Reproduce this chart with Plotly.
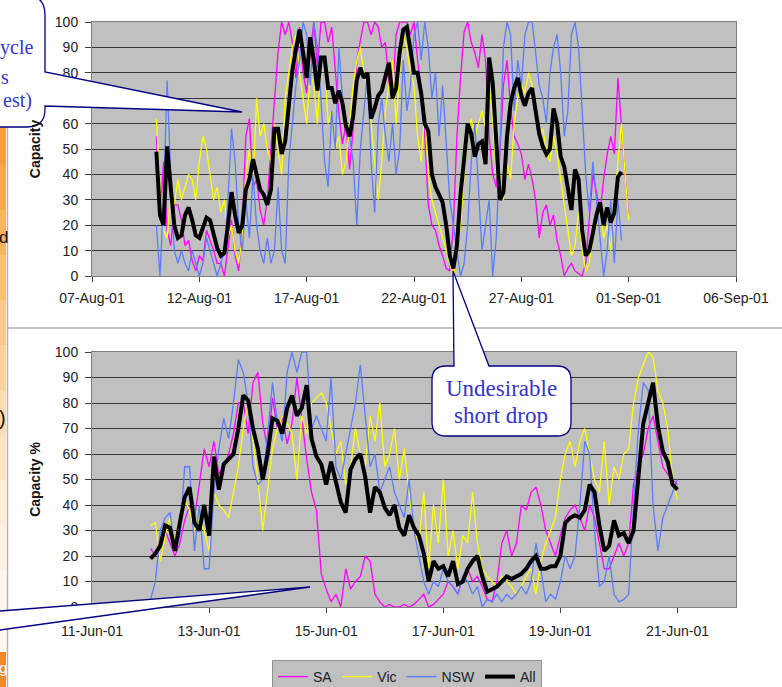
import plotly.graph_objects as go
import pandas as pd

# ---------------- data ----------------
# Top chart: 4-hourly samples from 10-Aug-2001 00:00
top_start = "2001-08-10 00:00"
top_sa = [55,22,45,18,12,28,28,22,12,14, 6,2,8,6,18,14,10,5,5,0, 12,22,8,2,20,55,62,35,38,26,
          20,30,50,70,88,100,95,100,92,78, 98,80,72,88,100,82,100,100,92,98, 82,64,52,60,42,58,85,92,100,100,
          95,100,98,90,92,76,72,95,100,100, 100,95,100,85,74,55,28,20,18,12, 8,3,2,20,55,
          78,96,100,92,88,82,95,85,55,40, 35,48,75,85,66,55,52,48,38,44, 38,30,15,25,28,20,24,14,8,0,
          3,5,2,1,0,5,22,40,33,25, 38,48,55,48,78,58,40,24]
top_vic = [62,35,18,15,32,28,38,30,35,40, 38,30,45,55,50,40,30,35,25,30, 15,20,10,5,15,40,50,35,70,55,
           60,50,45,60,50,40,70,80,90,95, 80,70,60,80,75,60,85,85,60,65, 50,55,40,45,60,75,85,90,80,75,
           60,45,30,45,65,75,85,60,80,95, 90,80,75,55,45,65,40,30,25,20, 15,10,5,0,10,
           20,40,55,62,55,60,65,58,75,62, 40,35,30,45,38,60,70,75,72,80, 75,65,55,58,50,45,55,48,38,30,
           20,8,12,25,10,2,5,15,20,28, 15,20,10,25,45,60,40,22]
top_nsw = [20,0,30,77,40,10,5,10,5,2, 10,5,0,5,15,10,5,0,5,10, 30,58,45,20,10,30,15,40,20,10,
           5,15,5,10,35,10,5,45,60,75, 85,100,95,75,100,90,70,45,35,65, 50,90,70,60,55,45,20,50,65,80,
           45,25,60,70,55,45,60,40,50,85, 65,75,95,100,85,100,90,70,80,55, 75,50,30,20,10,
           0,5,20,45,60,35,10,20,30,0, 15,50,90,100,95,65,85,75,95,100, 100,88,75,70,60,80,90,95,80,55,
           65,95,100,90,65,40,25,45,30,15, 0,10,30,5,30,14, None,None]
top_all = [49,24,20,51,35,20,15,16,24,27, 22,16,15,19,23,22,16,11,8,9, 20,33,24,17,20,34,38,46,40,34,
           32,28,34,58,58,48,53,69,81,89, 97,88,78,94,85,73,86,86,74,74, 68,73,68,59,55,63,77,82,78,80,
           62,66,71,73,78,84,70,74,88,97, 98,88,80,80,72,60,57,40,35,32, 29,20,8,3,12,
           32,45,60,56,47,52,53,44,86,76, 52,30,33,55,68,74,78,71,67,72, 74,64,56,51,48,50,66,60,47,43,
           34,26,42,38,18,8,10,18,24,29, 20,27,21,25,39,41, None,None]

# Bottom chart: 2-hourly samples from 12-Jun-2001 00:00
bot_start = "2001-06-12 00:00"
bot_sa = [23,20,27,30,25,20,25,34,40,35, 48,62,55,65,52,55,60,68,80,80, 68,88,92,72,62,82,70,75,64,72,
          90,74,58,45,38,13,7,2,5,0, 15,7,10,12,20,18,5,2,0,1, 0,0,1,0,1,3,5,0,1,3,
          5,10,8,5,12,15,10,12,8,3, 2,10,25,30,20,25,40,38,45,47, 40,30,25,20,28,35,38,40,35,30,
          40,35,25,15,15,20,25,20,25,48, 55,60,70,75,65,55,52,50,48]
bot_vic = [32,33,18,28,35,25,35,42,38,30, 35,30,22,45,40,38,35,45,55,70, 80,65,50,30,45,62,70,75,72,68,
           50,75,68,80,82,84,80,70,60,65, 48,55,70,60,55,75,65,80,55,60, 70,50,62,45,30,25,45,15,40,25,
           50,20,30,15,28,25,45,25,15,12, 10,8,12,10,8,5,8,12,15,5, 18,25,30,35,50,60,65,55,65,70,
           60,50,45,65,40,55,50,60,62,80, 90,95,100,98,85,80,70,50,42]
bot_nsw = [3,10,30,35,37,22,28,55,55,22, 40,15,15,45,62,74,66,80,97,92, 80,55,48,50,68,88,72,65,92,100,
           92,100,100,70,75,70,65,90,55,50, 60,70,80,95,75,55,60,45,50,55, 45,40,35,50,30,20,10,5,10,8,
           15,10,8,5,12,10,5,8,0,3, 2,5,2,5,3,5,8,5,10,25, 15,2,5,3,10,20,15,20,40,65,
           60,30,8,10,20,5,2,3,5,40, 70,88,85,40,22,35,40,45,50]
bot_all = [19,21,24,32,31,22,33,43,47,33, 30,40,28,59,46,56,58,60,70,83, 81,70,62,50,60,74,73,68,78,83,
           75,78,87,66,59,56,48,57,49,41, 37,54,58,60,51,37,47,45,39,36, 40,31,28,36,31,28,21,10,18,15,
           16,12,18,9,10,15,18,20,12,6, 7,8,10,12,11,12,13,15,18,20, 15,15,16,16,20,33,35,36,35,38,
           48,45,32,22,24,34,28,29,25,30, 52,72,80,88,71,61,57,48,46]

series_names = ["SA", "Vic", "NSW", "All"]
top_ticks = ["2001-08-07", "2001-08-12", "2001-08-17", "2001-08-22", "2001-08-27", "2001-09-01", "2001-09-06"]
bot_ticks = ["2001-06-11", "2001-06-13", "2001-06-15", "2001-06-17", "2001-06-19", "2001-06-21"]
y_ticks = [0, 10, 20, 30, 40, 50, 60, 70, 80, 90, 100]

# ---------------- styling ----------------
W, H = 782, 687
def px(x): return x / W
def py(y): return 1 - y / H

colors = {"SA": "#ff00ff", "Vic": "#ffff00", "NSW": "#5a7cff", "All": "#000000"}
widths = {"SA": 1.3, "Vic": 1.3, "NSW": 1.3, "All": 4}
FONT = "Arial, Liberation Sans, sans-serif"
SERIF = "Times New Roman, Liberation Serif, serif"
CALL = "#3535c8"
NAVY = "#000080"

top_t = pd.date_range(top_start, periods=len(top_sa), freq="4h")
bot_t = pd.date_range(bot_start, periods=len(bot_sa), freq="2h")

fig = go.Figure()
for name, vals in zip(series_names, [top_sa, top_vic, top_nsw, top_all]):
    fig.add_trace(go.Scatter(x=top_t, y=vals, mode="lines", name=name, showlegend=False,
                             line=dict(color=colors[name], width=widths[name]),
                             xaxis="x", yaxis="y"))
for name, vals in zip(series_names, [bot_sa, bot_vic, bot_nsw, bot_all]):
    fig.add_trace(go.Scatter(x=bot_t, y=vals, mode="lines", name=name, showlegend=True,
                             line=dict(color=colors[name], width=widths[name]),
                             xaxis="x2", yaxis="y2"))

xcommon = dict(domain=[px(92), px(736)], tickformat="%d-%b-%y", ticks="outside", ticklen=5,
               tickcolor="#404040", showgrid=False, showline=True, mirror=True, linecolor="#808080",
               linewidth=1, tickfont=dict(family=FONT, size=14, color="#222"), ticklabelstandoff=4,
               automargin=False)
ycommon = dict(range=[0, 100], tickvals=y_ticks, ticks="outside", ticklen=6, tickcolor="#404040",
               showgrid=True, gridcolor="#363636", gridwidth=1.2, zeroline=False, showline=True,
               mirror=True, linecolor="#808080", linewidth=1, automargin=False,
               tickfont=dict(family=FONT, size=14, color="#222"), ticklabelstandoff=4)

fig.update_layout(
    width=W, height=H, margin=dict(l=0, r=0, t=0, b=0, autoexpand=False),
    paper_bgcolor="white", plot_bgcolor="#c0c0c0",
    xaxis=dict(xcommon, anchor="y", range=["2001-08-07", "2001-09-06"], tickvals=top_ticks),
    yaxis=dict(ycommon, anchor="x", domain=[py(276), py(22)],
               title=dict(text="<b>Capacity</b>", font=dict(family=FONT, size=14, color="#111"), standoff=10)),
    xaxis2=dict(xcommon, anchor="y2", range=["2001-06-11", "2001-06-22"], tickvals=bot_ticks,
                ticklabelstandoff=6),
    yaxis2=dict(ycommon, anchor="x2", domain=[py(607), py(352)],
                title=dict(text="<b>Capacity %</b>", font=dict(family=FONT, size=14, color="#111"), standoff=10)),
    legend=dict(orientation="h", x=px(272), y=py(660), xanchor="left", yanchor="top",
                bgcolor="#c0c0c0", bordercolor="#909090", borderwidth=1,
                font=dict(family=FONT, size=14, color="#222"), itemwidth=30, tracegroupgap=0),
)

shapes = []
# left orange strip (fading)
strip_cols = ["#f4a040", "#f6aa52", "#f7b463", "#f9bf77", "#fac98b", "#fbd39f", "#fcdcb2",
              "#fde4c4", "#feecd5", "#fef2e2", "#fff6ec", "#fffaf4"]
seg_top, seg_h = 120, 45
for k, c in enumerate(strip_cols):
    shapes.append(dict(type="rect", xref="paper", yref="paper", x0=px(0), x1=px(6),
                       y0=py(seg_top + (k + 1) * seg_h), y1=py(seg_top + k * seg_h),
                       fillcolor=c, line=dict(width=0), layer="below"))
shapes.append(dict(type="rect", xref="paper", yref="paper", x0=px(0), x1=px(6), y0=py(690), y1=py(652),
                   fillcolor="#f08a30", line=dict(width=0), layer="below"))
# panel separators
shapes.append(dict(type="line", xref="paper", yref="paper", x0=px(7), x1=px(782), y0=py(328), y1=py(328),
                   line=dict(color="#c4c4c4", width=2), layer="below"))
shapes.append(dict(type="line", xref="paper", yref="paper", x0=px(7.5), x1=px(7.5), y0=py(0), y1=py(687),
                   line=dict(color="#b4b4b4", width=1.5), layer="below"))

def path(cmds):
    out = []
    for c in cmds:
        op, pts = c[0], c[1:]
        coords = []
        for j in range(0, len(pts), 2):
            coords.append(f"{px(pts[j]):.5f},{py(pts[j+1]):.5f}")
        out.append(op + " " + " ".join(coords))
    return " ".join(out) + " Z"

# callout top-left
shapes.append(dict(type="path", xref="paper", yref="paper", layer="above",
                   path=path([("M", -20, -5), ("L", 25, -5), ("Q", 45, -5, 45, 15), ("L", 45, 72),
                              ("L", 242, 112), ("L", 45, 106), ("L", 45, 109), ("Q", 45, 127, 27, 127),
                              ("L", -20, 127)]),
                   fillcolor="white", line=dict(color=NAVY, width=1.3)))
# callout "Undesirable short drop"
shapes.append(dict(type="path", xref="paper", yref="paper", layer="above",
                   path=path([("M", 446, 366), ("L", 454, 366), ("L", 453, 271), ("L", 489, 366),
                              ("L", 557, 366), ("Q", 571, 366, 571, 380), ("L", 571, 422),
                              ("Q", 571, 436, 557, 436), ("L", 446, 436), ("Q", 432, 436, 432, 422),
                              ("L", 432, 380), ("Q", 432, 366, 446, 366)]),
                   fillcolor="white", line=dict(color=NAVY, width=1.3)))
# callout pointer bottom-left
shapes.append(dict(type="path", xref="paper", yref="paper", layer="above",
                   path=path([("M", -10, 611.8), ("L", 310, 587), ("L", -10, 631.4)]),
                   fillcolor="white", line=dict(color=NAVY, width=1.3)))
fig.update_layout(shapes=shapes)

ann = []
def text(x, y, s, size, color, family, xanchor="center"):
    ann.append(dict(xref="paper", yref="paper", x=px(x), y=py(y), text=s, showarrow=False,
                    xanchor=xanchor, yanchor="middle", font=dict(family=family, size=size, color=color)))
text(35, 48, "ycle", 20, CALL, SERIF, "right")
text(11, 77, "s", 20, CALL, SERIF, "right")
text(34, 101, "est)", 20, CALL, SERIF, "right")
text(501, 388, "Undesirable", 23, CALL, SERIF)
text(501, 415, "short drop", 23, CALL, SERIF)
text(10, 237, "d", 17, "#111", FONT, "right")
text(8, 418, ")", 20, "#111", FONT, "right")
text(9, 667, "g", 15, "white", FONT, "right")
fig.update_layout(annotations=ann)

fig.write_html("out.html", config={"displayModeBar": False},
               post_script="document.body.style.margin='0';document.body.style.overflow='hidden';")
